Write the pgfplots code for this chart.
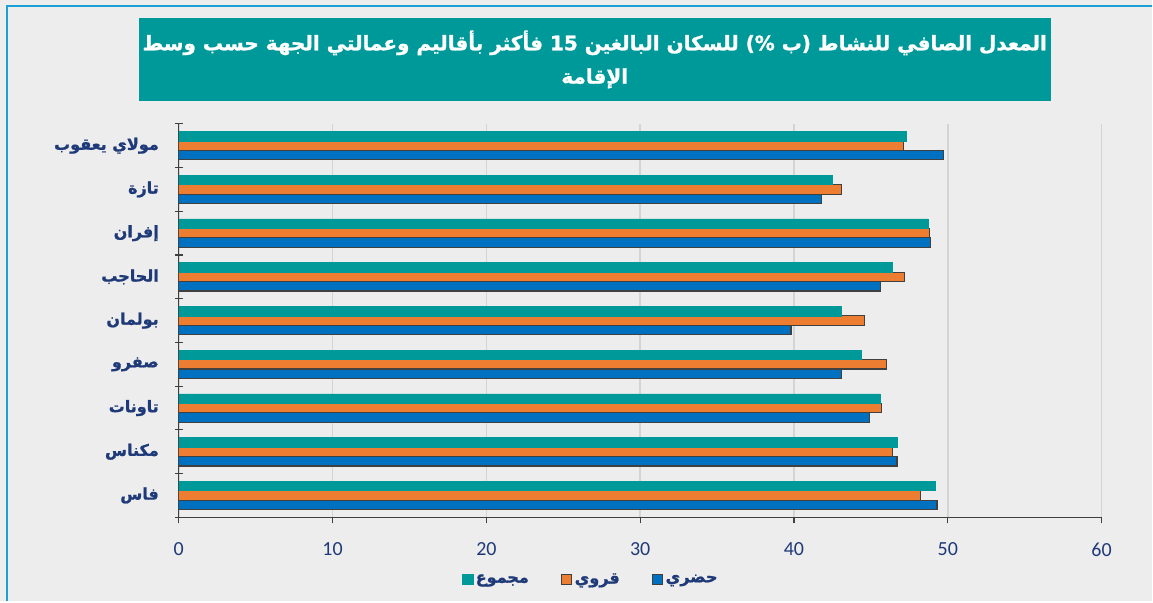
\documentclass[border=0pt]{standalone}
\usepackage{fontspec}
\setmainfont{Carlito}
\newfontfamily\arabicfont[Script=Arabic, BoldFeatures={FakeBold=1.2}]{DejaVu Sans}
\TeXXeTstate=1
\usepackage{pgfplots}
\pgfplotsset{compat=1.18}
\definecolor{tealc}{HTML}{009999}
\definecolor{orangec}{HTML}{ED7D31}
\definecolor{bluec}{HTML}{0070C0}
\definecolor{navy}{HTML}{1F3A78}
\definecolor{bgc}{HTML}{EDEDED}
\definecolor{bordc}{HTML}{1BA1D5}
\definecolor{edgec}{HTML}{404040}
\newcommand{\ar}[1]{{\arabicfont\bfseries\beginR #1\endR}}
\begin{document}
\begin{tikzpicture}[x=0.75pt,y=0.75pt]
\fill[bgc] (0,0) rectangle (1153,602);
\draw[bordc, line width=2.2pt] (7,0) -- (7,596) -- (1153,596);
\fill[tealc] (139,501) rectangle (1052,584);
\node[text=white, align=center, font=\fontsize{15}{25}\selectfont] at (595.5,542.5)
  {\ar{المعدل الصافي للنشاط (ب \%) للسكان البالغين 15 فأكثر بأقاليم وعمالتي الجهة حسب وسط}\\\ar{الإقامة}};
\begin{axis}[
  at={(134.25pt,63pt)}, anchor=south west,
  scale only axis, width=693pt, height=295.5pt,
  xbar, bar width=7.1pt,
  xmin=0, xmax=60, ymin=-0.5, ymax=8.5,
  axis x line*=bottom, axis y line*=left,
  axis line style={edgec, line width=0.9pt},
  xtick={0,10,...,60},
  xmajorgrids, grid style={color=black!17, line width=1.1pt},
  x tick style={edgec, line width=0.9pt}, tick align=outside,
  xtick pos=bottom,
  major tick length=4.5pt,
  /pgf/number format/assume math mode=true,
  xticklabel style={font=\fontsize{15}{18}\selectfont, text=navy, yshift=-11pt},
  ytick={0,...,8},
  y tick style={draw=none},
  yticklabels={\ar{فاس},\ar{مكناس},\ar{تاونات},\ar{صفرو},\ar{بولمان},\ar{الحاجب},\ar{إفران},\ar{تازة},\ar{مولاي يعقوب}},
  yticklabel style={font=\fontsize{12}{15}\selectfont, text=navy, xshift=-7pt},
  extra y ticks={-0.5,0.5,...,8.5},
  extra y tick labels={},
  extra y tick style={y tick style={draw=edgec, line width=0.9pt}, major tick length=6pt, tick align=center},
  legend style={at={(0.447,-0.158)}, anchor=center, draw=none, fill=none,
    legend columns=3, font=\fontsize{12}{14}\selectfont, text=navy,
    /tikz/every even column/.append style={column sep=22pt}},
  reverse legend,
  legend image code/.code={\draw[#1] (0pt,-3.8pt) rectangle (7.6pt,3.8pt);},
]
\addplot[fill=bluec, draw=edgec, line width=0.9pt, bar shift=-7.1pt] coordinates {
(49.3,0) (46.7,1) (44.9,2) (43.1,3) (39.8,4) (45.6,5) (48.9,6) (41.8,7) (49.7,8)};
\addlegendentry{\ar{حضري}}
\addplot[fill=orangec, draw=edgec, line width=0.9pt, bar shift=0pt] coordinates {
(48.2,0) (46.4,1) (45.7,2) (46.0,3) (44.6,4) (47.2,5) (48.8,6) (43.1,7) (47.1,8)};
\addlegendentry{\ar{قروي}}
\addplot[fill=tealc, draw=tealc, line width=0.4pt, bar shift=7.1pt] coordinates {
(49.2,0) (46.7,1) (45.6,2) (44.4,3) (43.1,4) (46.4,5) (48.7,6) (42.5,7) (47.3,8)};
\addlegendentry{\ar{مجموع}}
\end{axis}
\end{tikzpicture}
\end{document}
